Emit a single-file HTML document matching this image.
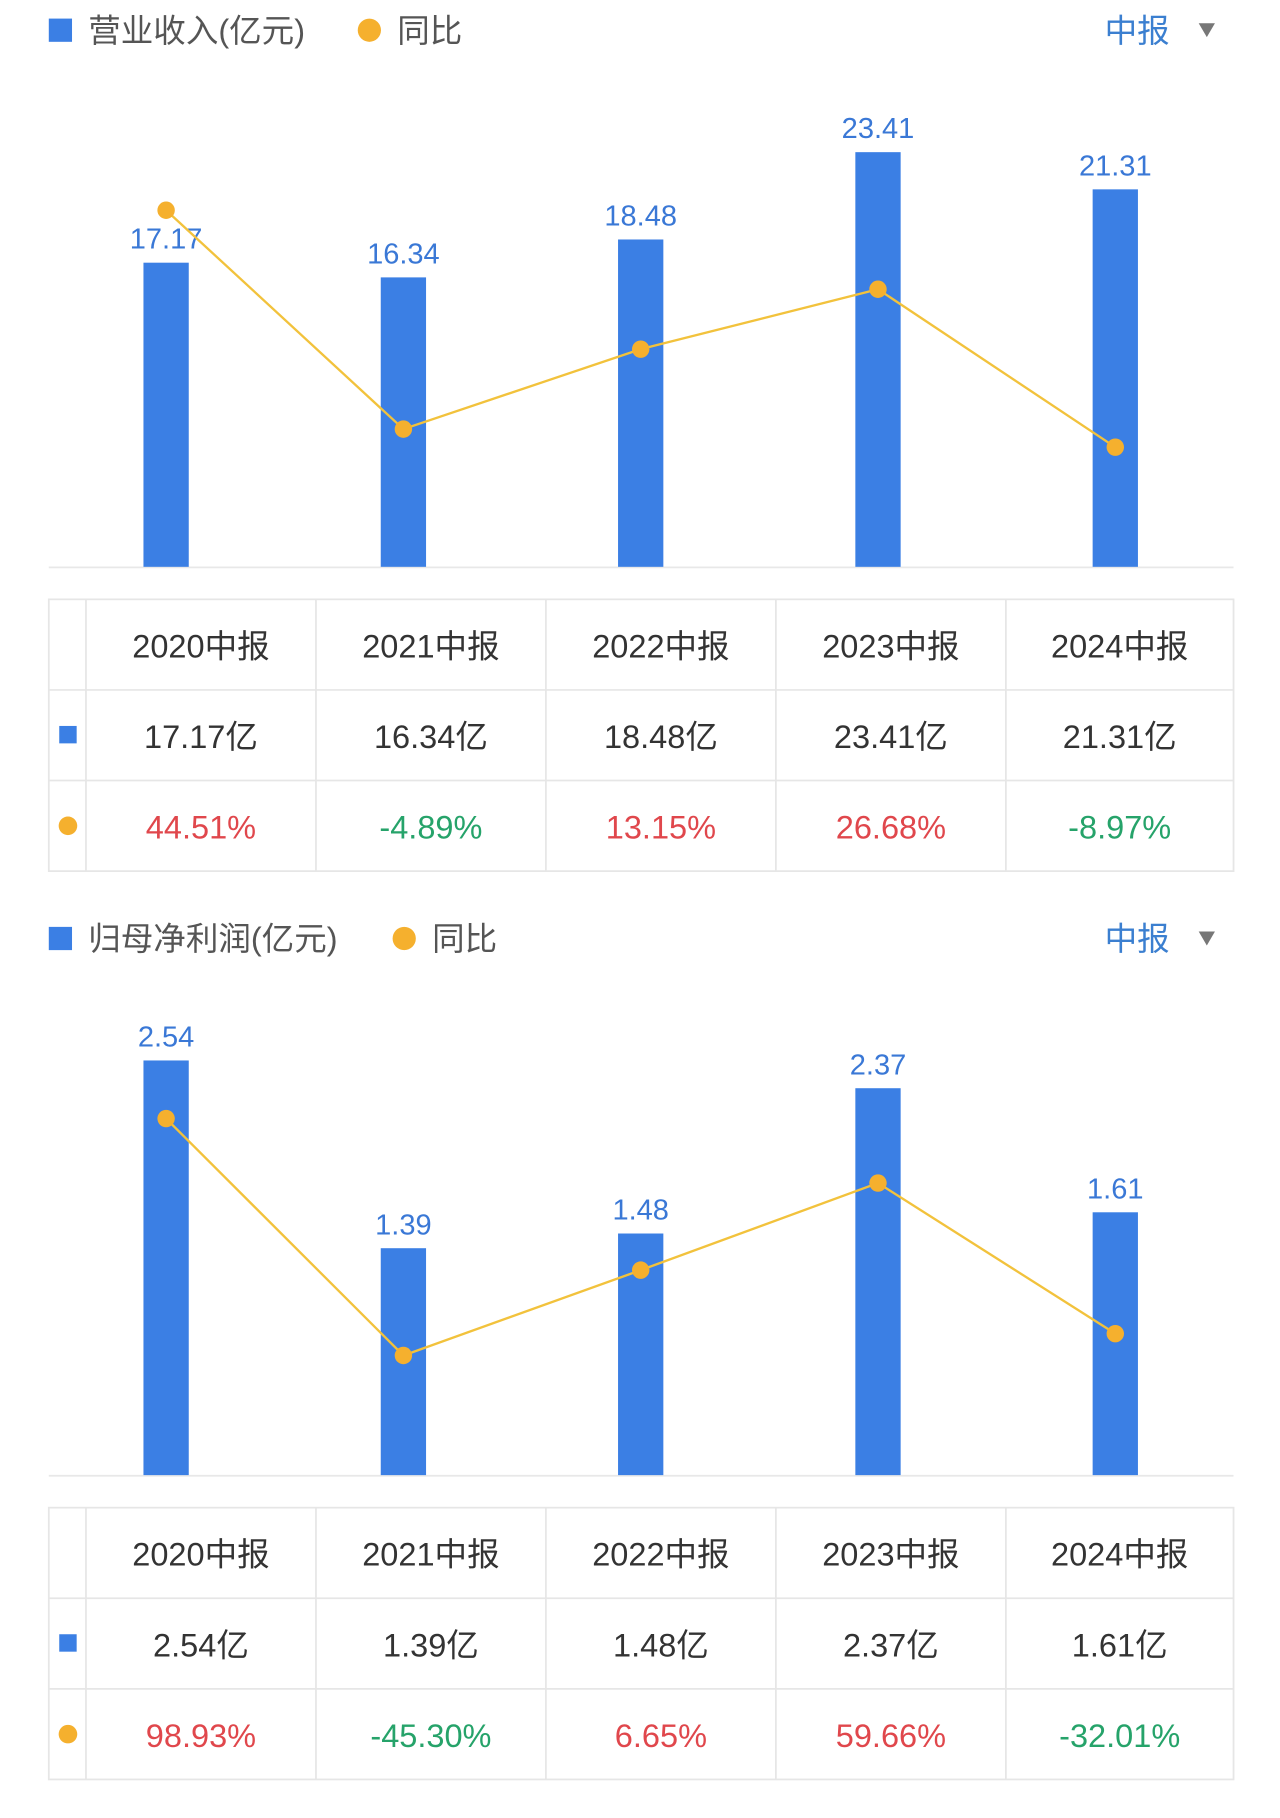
<!DOCTYPE html>
<html><head><meta charset="utf-8">
<style>
html,body{margin:0;padding:0;background:#fff;}
svg{display:block;}
text{font-family:"Liberation Sans","Noto Sans CJK SC",sans-serif;}
</style></head>
<body>
<svg id="root" width="1280" height="1818" viewBox="0 0 1102 1565.2" xmlns="http://www.w3.org/2000/svg"></svg>
<script>
const categories = ["2020中报","2021中报","2022中报","2023中报","2024中报"];
const revenueValues = [17.17, 16.34, 18.48, 23.41, 21.31];
const revenueYoy = [44.51, -4.89, 13.15, 26.68, -8.97];
const profitValues = [2.54, 1.39, 1.48, 2.37, 1.61];
const profitYoy = [98.93, -45.30, 6.65, 59.66, -32.01];
const revenueTitle = "营业收入(亿元)";
const profitTitle = "归母净利润(亿元)";

const NS = "http://www.w3.org/2000/svg";
const root = document.getElementById('root');
function el(tag, attrs, parent, txt){
  const e = document.createElementNS(NS, tag);
  for (const k in attrs) e.setAttribute(k, attrs[k]);
  if (txt !== undefined) e.textContent = txt;
  (parent || root).appendChild(e);
  return e;
}
const BLUE = "#3b7fe4", ORANGE = "#f5b02e", LINE = "#f2c23c";

function section(off, title, vals, yoy, key){
  const g = el('g', {}, root);
  
  
  const lg = el('g', {}, g);
  
  
  el('rect', {x:42, y:off+16, width:20, height:20, fill:BLUE}, lg);
  el('text', {x:76, y:off+36, 'font-size':28, fill:'#555'}, lg, title);
  const tw = title.length * 30 - 20;
  el('circle', {cx:76+tw+22, cy:off+26, r:10, fill:ORANGE}, lg);
  el('text', {x:76+tw+46, y:off+36, 'font-size':28, fill:'#555'}, lg, "同比");
  const pd = el('g', {}, g);
  
  
  el('text', {x:951, y:off+36, 'font-size':28, fill:'#3b7fd0'}, pd, "中报");
  el('path', {d:`M1032 ${off+20} L1046 ${off+20} L1039 ${off+32} Z`, fill:'#777'}, pd);

  const base = off + 488;
  const barScale = 357 / Math.max(...vals);
  const mn = Math.min(...yoy), mx = Math.max(...yoy);
  const yLine = v => base - 103 - (v - mn) / (mx - mn) * 204;
  const xC = i => 143 + i * 204.3;
  el('line', {x1:42, x2:1062, y1:base+0.5, y2:base+0.5, stroke:'#e8e8e8', 'stroke-width':1.5}, g);
  vals.forEach((v,i)=>{
    const h = v * barScale;
    const b = el('rect', {x:xC(i)-19.5, y:base-h, width:39, height:h, fill:BLUE}, g);
    
    
    const l = el('text', {x:xC(i), y:base-h-12, 'font-size':25, fill:'#3a78d6', 'text-anchor':'middle'}, g, v.toFixed(2));
    
    
  });
  const pts = yoy.map((v,i)=>xC(i)+','+yLine(v)).join(' ');
  const pl = el('polyline', {points:pts, fill:'none', stroke:LINE, 'stroke-width':2}, g);
  
  
  yoy.forEach((v,i)=>{
    const c = el('circle', {cx:xC(i), cy:yLine(v), r:7.5, fill:ORANGE}, g);
    
    
  });

  const tb = el('g', {}, g);
  
  
  const ty = off + 516, rh = 78, cols = [42,74,272,470,668,866,1062];
  el('rect', {x:42, y:ty, width:1020, height:rh*3, fill:'none', stroke:'#e6e6e6', 'stroke-width':1.5}, tb);
  for (let r=1;r<3;r++) el('line', {x1:42, x2:1062, y1:ty+r*rh, y2:ty+r*rh, stroke:'#e6e6e6', 'stroke-width':1.5}, tb);
  for (let c=1;c<6;c++) el('line', {x1:cols[c], x2:cols[c], y1:ty, y2:ty+rh*3, stroke:'#e6e6e6', 'stroke-width':1.5}, tb);
  el('rect', {x:51, y:ty+rh+31, width:15, height:15, fill:BLUE}, tb);
  el('circle', {cx:58.5, cy:ty+rh*2+39, r:8, fill:ORANGE}, tb);
  categories.forEach((c,i)=>{
    const cx = (cols[i+1]+cols[i+2])/2;
    const h = el('text', {x:cx, y:ty+50, 'font-size':28, fill:'#333', 'text-anchor':'middle'}, tb, c);
    
    
    el('text', {x:cx, y:ty+rh+50, 'font-size':28, fill:'#333', 'text-anchor':'middle'}, tb, vals[i].toFixed(2)+'亿');
    const y = yoy[i];
    el('text', {x:cx, y:ty+rh*2+50, 'font-size':28, fill: y>=0 ? '#e0474c' : '#26a36a', 'text-anchor':'middle'}, tb, y.toFixed(2)+'%');
  });
}
section(0, revenueTitle, revenueValues, revenueYoy, 'revenue');
section(782, profitTitle, profitValues, profitYoy, 'profit');
</script>
</body></html>
